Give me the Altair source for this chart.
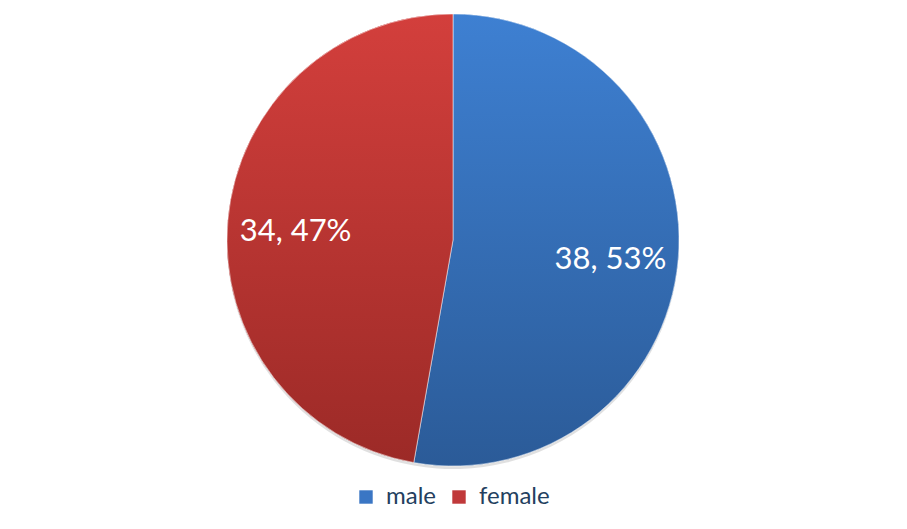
import altair as alt
import pandas as pd

categories = ["male", "female"]
values = [38, 34]
labels = ["38, 53%", "34, 47%"]

df = pd.DataFrame({"sex": categories, "value": values, "label": labels,
                   "order": [0, 1]})

blue_grad = alt.Gradient(gradient="linear", x1=0, y1=0, x2=0, y2=1,
                         stops=[alt.GradientStop(offset=0, color="#3E80D2"),
                                alt.GradientStop(offset=1, color="#2B5B98")])
red_grad = alt.Gradient(gradient="linear", x1=0, y1=0, x2=0, y2=1,
                        stops=[alt.GradientStop(offset=0, color="#D33F3C"),
                               alt.GradientStop(offset=1, color="#9C2A27")])

cx, cy, R = 445, 232, 226

base = alt.Chart(df).encode(
    theta=alt.Theta("value:Q", stack=True),
    order=alt.Order("order:Q"),
    x=alt.value(cx), y=alt.value(cy),
)

shadow = alt.Chart(df).mark_arc(radius=R, fill="#000000", opacity=0.12).encode(
    theta=alt.Theta("value:Q", stack=True), order=alt.Order("order:Q"),
    x=alt.value(cx), y=alt.value(cy + 3))

solid = base.mark_arc(radius=R).encode(
    color=alt.Color("sex:N", scale=alt.Scale(domain=categories, range=["#3A76C4", "#C0393A"]),
                    legend=alt.Legend(title=None, orient="none", legendX=346, legendY=477,
                                      direction="horizontal", symbolType="square",
                                      symbolSize=180, labelFontSize=24, labelFont="Lato",
                                      labelColor="#243F60", columnPadding=10,
                                      symbolStrokeWidth=0, labelOffset=8))
)

grad = base.mark_arc(radius=R, stroke="#FFFFFF", strokeOpacity=0.5, strokeWidth=1).encode(
    color=alt.condition(alt.datum.sex == "male", alt.value(blue_grad), alt.value(red_grad))
)

text = base.mark_text(radius=158, fontSize=31, font="Lato", color="#FFFFFF", dy=6).encode(
    text="label:N")

chart = alt.layer(shadow, solid, grad, text).properties(
    width=891, height=513, autosize=alt.AutoSizeParams(type="none"), padding=0
).configure_view(stroke=None)

chart.save("out.html", embed_options={"renderer": "svg", "actions": False})
